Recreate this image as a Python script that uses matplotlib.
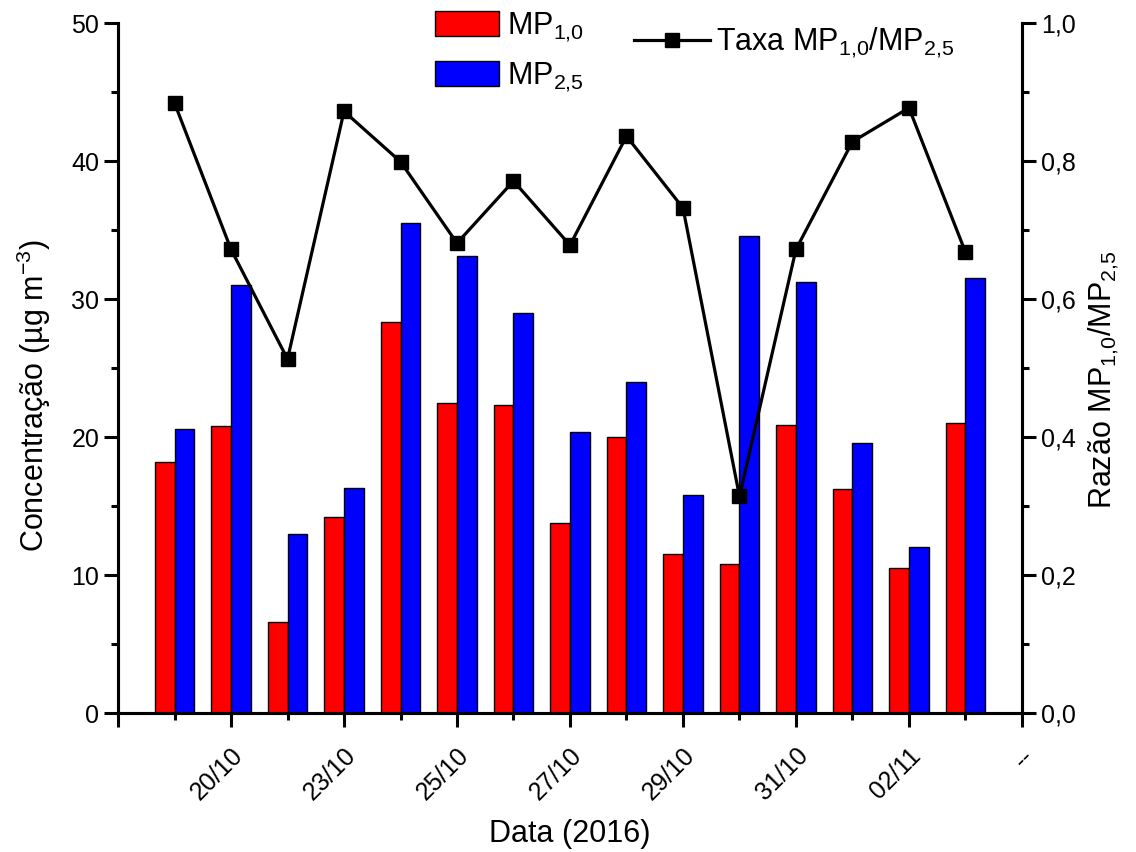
import matplotlib
matplotlib.use("Agg")
import matplotlib.pyplot as plt
from matplotlib.ticker import MultipleLocator, FixedLocator, FixedFormatter, FuncFormatter
import numpy as np

plt.rcParams['font.family'] = ['Liberation Sans', 'DejaVu Sans']
plt.rcParams['mathtext.fontset'] = 'custom'
plt.rcParams['mathtext.rm'] = 'Liberation Sans'
plt.rcParams['mathtext.it'] = 'Liberation Sans'
plt.rcParams['mathtext.default'] = 'rm'

# Daily mean concentrations (µg m-3) and the MP1,0/MP2,5 ratio
positions = list(range(1, 16))
mp10 = [18.2, 20.8, 6.6, 14.2, 28.3, 22.5, 22.3, 13.8, 20.0, 11.5, 10.8, 20.9, 16.2, 10.5, 21.0]
mp25 = [20.6, 31.0, 13.0, 16.3, 35.5, 33.1, 29.0, 20.4, 24.0, 15.8, 34.6, 31.2, 19.6, 12.0, 31.5]
ratio = [0.884, 0.672, 0.513, 0.872, 0.799, 0.681, 0.771, 0.678, 0.836, 0.732, 0.314, 0.672, 0.828, 0.877, 0.668]
tick_pos = [0, 2, 4, 6, 8, 10, 12, 14, 16]
tick_labels = ['', '20/10', '23/10', '25/10', '27/10', '29/10', '31/10', '02/11', '--']

fig = plt.figure(figsize=(11.36, 8.52), dpi=100)
ax = fig.add_axes([0.1039, 0.1631, 0.7957, 0.8099])
ax2 = ax.twinx()

x = np.array(positions, dtype=float)
w = 0.35
b1 = ax.bar(x - w / 2, mp10, width=w, color='#ff0000', edgecolor='black', linewidth=1.0,
            label='MP$_{1{,}0}$', zorder=2)
b2 = ax.bar(x + w / 2, mp25, width=w, color='#0000ff', edgecolor='black', linewidth=1.0,
            label='MP$_{2{,}5}$', zorder=2)

ln, = ax2.plot(x, ratio, color='black', linewidth=2.3, marker='s', markersize=10,
               label='Taxa MP$_{1{,}0}$/MP$_{2{,}5}$')

ax.set_xlim(0, 16)
ax.set_ylim(0, 50)
ax2.set_ylim(0, 1.0)

ax.xaxis.set_major_locator(FixedLocator(tick_pos))
ax.xaxis.set_major_formatter(FixedFormatter(tick_labels))
ax.xaxis.set_minor_locator(MultipleLocator(1))
ax.yaxis.set_major_locator(MultipleLocator(10))
ax.yaxis.set_minor_locator(MultipleLocator(5))
ax2.yaxis.set_major_locator(MultipleLocator(0.2))
ax2.yaxis.set_minor_locator(MultipleLocator(0.1))
ax2.yaxis.set_major_formatter(FuncFormatter(lambda v, p: f"{v:.1f}".replace('.', ',')))

for a in (ax, ax2):
    a.spines['top'].set_visible(False)
    for s in a.spines.values():
        s.set_linewidth(2.2)
    a.tick_params(which='major', length=10, width=2.2, direction='out', labelsize=18)
    a.tick_params(which='minor', length=5, width=2.2, direction='out')

plt.setp(ax.get_xticklabels(), rotation=45, ha='right', rotation_mode='anchor')
ax.tick_params(axis='x', which='major', pad=12)

ax.set_xlabel('Data (2016)', fontsize=22, labelpad=10)
ax.set_ylabel('Concentração (µg m$^{-3}$)', fontsize=22)
ax2.set_ylabel('Razão MP$_{1{,}0}$/MP$_{2{,}5}$', fontsize=22)
ax.yaxis.set_label_coords(-0.072, 0.46)
ax2.yaxis.set_label_coords(1.072, 0.483)

leg1 = ax2.legend(handles=[b1, b2], loc='upper left', bbox_to_anchor=(0.320, 1.058),
                  frameon=False, fontsize=22, handlelength=2.1, handleheight=0.9,
                  labelspacing=0.55, handletextpad=0.25, borderpad=0.4)
ax2.add_artist(leg1)
ax2.legend(handles=[ln], loc='upper left', bbox_to_anchor=(0.540, 1.036), frameon=False,
           fontsize=22, handlelength=2.5, handletextpad=0.2, borderpad=0.4)

fig.savefig('out.png', dpi=100)
